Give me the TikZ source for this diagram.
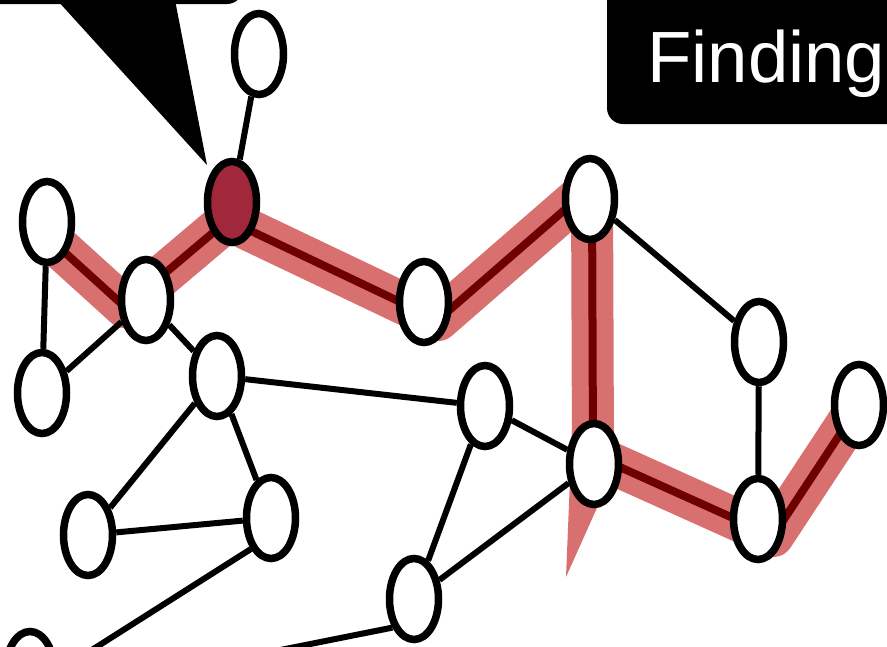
\documentclass[tikz,border=0pt]{standalone}
\usepackage{fontspec}
\newfontfamily\labfont{Liberation Sans}
\usetikzlibrary{shapes.geometric}
\definecolor{bandred}{RGB}{217,112,112}
\definecolor{corered}{RGB}{110,0,0}
\definecolor{nodered}{RGB}{160,40,58}
\pgfdeclarelayer{bg}
\pgfsetlayers{bg,main}
\tikzset{
  vtx/.style={ellipse, draw=black, line width=7.5pt, fill=white,
    minimum width=49pt, minimum height=81pt, inner sep=0pt},
  hot/.style={vtx, fill=nodered},
  link/.style={line width=6pt, black},
  band/.style={line width=42pt, bandred, line cap=round, line join=round},
  core/.style={line width=8pt, corered, line cap=round, line join=round},
}
\begin{document}
\begin{tikzpicture}[x=1pt,y=-1pt]
\useasboundingbox (0,0) rectangle (887,646);
\clip (0,0) rectangle (887,646);

% vertices
\node[vtx] (n1) at (259,54) {};
\node[hot] (a)  at (232,202) {};
\node[vtx] (b)  at (47,222) {};
\node[vtx] (c)  at (146,300) {};
\node[vtx] (d)  at (42,393) {};
\node[vtx] (e)  at (217,376) {};
\node[vtx] (f)  at (424,302) {};
\node[vtx] (g)  at (590,199) {};
\node[vtx] (h)  at (759,342) {};
\node[vtx] (i)  at (859,405) {};
\node[vtx] (j)  at (485,406) {};
\node[vtx] (k)  at (594,464) {};
\node[vtx] (l)  at (758,519) {};
\node[vtx] (m)  at (88,535) {};
\node[vtx] (nn) at (271,518) {};
\node[vtx] (o)  at (414,599) {};
\node[vtx] (p)  at (30,672) {};
\coordinate (q1) at (13,700);
\coordinate (q2) at (150,676);

\begin{pgfonlayer}{bg}
  % highlighted route, a freehand stroke under the vertices
  \def\route{(50,239) -- (125,307) -- (228,220) -- (438,320)
    -- (592,186) -- (593,455) -- (773,536) -- (848,422)}
  \draw[band] \route;
  \fill[bandred] (572,430) -- (614,430) -- (614,470) -- (566,577) -- cycle;
  \draw[core] \route;
  % plain edges
  \draw[link] (n1) -- (a);
  \draw[link] (b) -- (d);
  \draw[link] (d) -- (c);
  \draw[link] (c) -- (e);
  \draw[link] (e) -- (j);
  \draw[link] (e) -- (m);
  \draw[link] (e) -- (nn);
  \draw[link] (m) -- (nn);
  \draw[link] (nn.237) -- (q1);
  \draw[link] (j) -- (o);
  \draw[link] (j) -- (k);
  \draw[link] (o) -- (k);
  \draw[link] (o.233) -- (q2);
  \draw[link] (g) -- (h);
  \draw[link] (h) -- (l);
\end{pgfonlayer}

% speech bubble at the top left
\fill[black, rounded corners=16pt] (-60,-60) rectangle (243,4);
\fill[black] (57,0) -- (175,0) -- (207,165) -- cycle;

% title box
\fill[black, rounded corners=16pt] (607,-60) rectangle (960,124);
\node[anchor=base west, inner sep=0pt, text=white,
  font=\labfont\fontsize{72.6}{80}\selectfont] (title) at (647,82) {Finding};
\end{tikzpicture}
\end{document}
